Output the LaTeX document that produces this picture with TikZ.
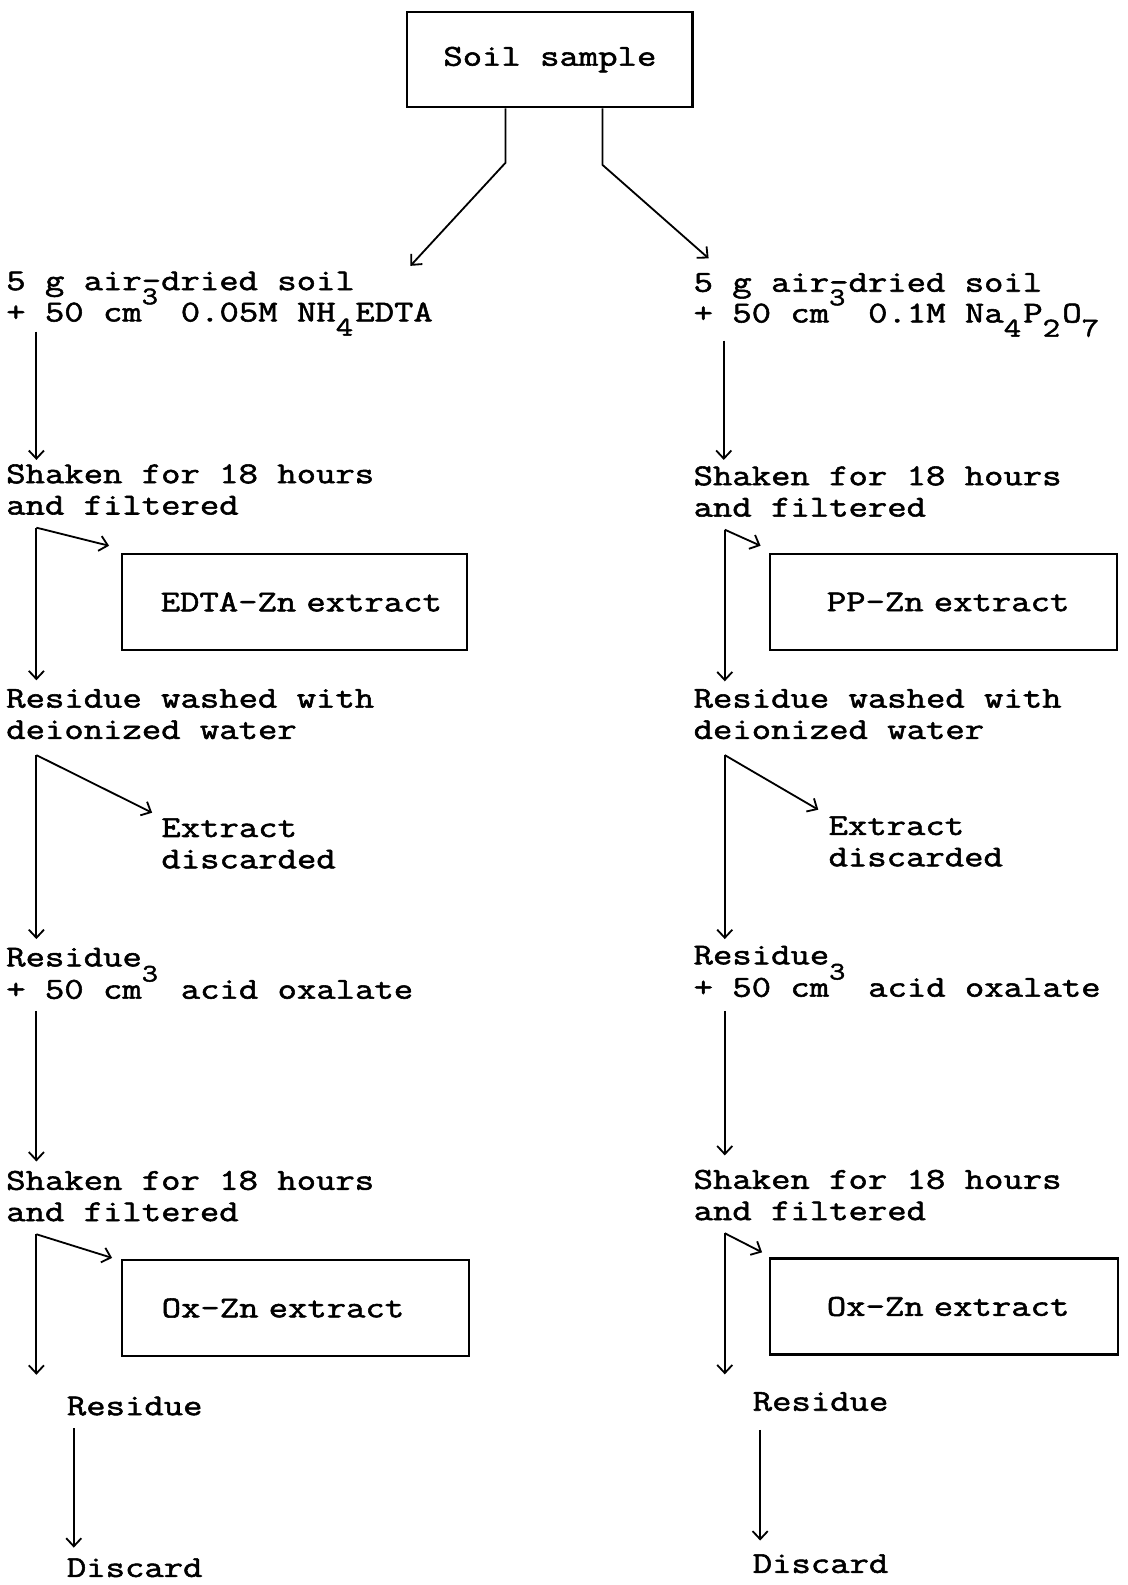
\documentclass[tikz,border=0pt]{standalone}
\usepackage{fontspec}
\usetikzlibrary{arrows.meta}
\newfontfamily\tw[FakeStretch=1.24,FakeBold=1.8]{Latin Modern Mono}
\newcommand\hi[1]{\makebox[19.4pt][l]{\raisebox{17pt}{\fontsize{25}{25}\selectfont #1}}}
\newcommand\lo[1]{\makebox[19.4pt][l]{\raisebox{-14pt}{\fontsize{27}{27}\selectfont #1}}}
\begin{document}
\begin{tikzpicture}[x=1pt,y=-1pt,
  txt/.style={anchor=base west, inner sep=0pt, font={\tw\fontsize{30}{30}\selectfont}},
  boxx/.style={draw, line width=2.2pt, inner sep=0pt, minimum height=95pt, font={\tw\fontsize{30}{30}\selectfont}},
  arr/.style={line width=1.8pt, -{Straight Barb[length=8pt,width=15pt,line width=1.8pt]}}]
\useasboundingbox (0,0) rectangle (1115,1568);
% top box
\node[boxx, minimum width=282pt, minimum height=94pt] (soil) at (544,59) {Soil sample};
% left column text
\node[txt] (l1a) at (6,287) {5 g air-dried soil};
\node[txt] (l1b) at (6,318) {+ 50 cm\hi{3} 0.05M NH\lo{4}EDTA};
\node[txt] (l2a) at (6,478) {Shaken for 18 hours};
\node[txt] (l2b) at (6,509) {and filtered};
\node[boxx, text width=341pt, align=left] (boxE) at (291.5,595.5) {\hspace*{38pt}EDTA-Zn extract};
\node[txt] (l3a) at (6,700) {Residue washed with};
\node[txt] (l3b) at (6,731) {deionized water};
\node[txt] (lext) at (159.5,828) {Extract};
\node[txt] (ldis) at (159.5,859) {discarded};
\node[txt] (l4a) at (6,956) {Residue};
\node[txt] (l4b) at (6,988) {+ 50 cm\hi{3} acid oxalate};
\node[txt] (l5a) at (6,1177) {Shaken for 18 hours};
\node[txt] (l5b) at (6,1208) {and filtered};
\node[boxx, text width=343pt, align=left] (boxOL) at (292.5,1294) {\hspace*{39pt}Ox-Zn extract};
\node[txt] (lres) at (66,1400) {Residue};
\node[txt] (ldisc) at (66,1560) {Discard};
% right column text
\node[txt] (r1a) at (686,288.6) {5 g air-dried soil};
\node[txt] (r1b) at (686,319) {+ 50 cm\hi{3} 0.1M Na\lo{4}P\lo{2}O\lo{7}};
\node[txt] (r2a) at (686,480) {Shaken for 18 hours};
\node[txt] (r2b) at (686,511) {and filtered};
\node[boxx, text width=343pt, align=left] (boxPP) at (933.5,595.5) {\hspace*{56pt}PP-Zn extract};
\node[txt] (r3a) at (686,700) {Residue washed with};
\node[txt] (r3b) at (686,731) {deionized water};
\node[txt] (rext) at (819.5,826) {Extract};
\node[txt] (rdis) at (819.5,857) {discarded};
\node[txt] (r4a) at (686,954) {Residue};
\node[txt] (r4b) at (686,986) {+ 50 cm\hi{3} acid oxalate};
\node[txt] (r5a) at (686,1176) {Shaken for 18 hours};
\node[txt] (r5b) at (686,1207) {and filtered};
\node[boxx, text width=344pt, align=left] (boxOR) at (934,1292.5) {\hspace*{56pt}Ox-Zn extract};
\node[txt] (rres) at (744.5,1395.6) {Residue};
\node[txt] (rdisc) at (744.5,1556) {Discard};
% top connectors
\draw[arr] ([xshift=-44pt]soil.south) -- ++(0,54) -- ([xshift=400pt,yshift=24pt]l1a.base west);
\draw[arr] ([xshift=52pt]soil.south) -- ++(0,56) -- ([xshift=15pt,yshift=33pt]r1a.base west);
% left connectors
\draw[arr] ([xshift=30pt,yshift=-10pt]l1b.base west) -- ([xshift=30pt,yshift=23pt]l2a.base west);
\draw[arr] ([xshift=30pt,yshift=-13pt]l2b.base west) -- ([xshift=30pt,yshift=27pt]l3a.base west);
\draw[arr] ([xshift=30pt,yshift=-13pt]l2b.base west) -- ([xshift=-12pt,yshift=7pt]boxE.north west);
\draw[arr] ([xshift=30pt,yshift=-16pt]l3b.base west) -- ([xshift=30pt,yshift=27pt]l4a.base west);
\draw[arr] ([xshift=30pt,yshift=-16pt]l3b.base west) -- ([xshift=-9pt,yshift=24pt]lext.base west);
\draw[arr] ([xshift=30pt,yshift=-12pt]l4b.base west) -- ([xshift=30pt,yshift=28pt]l5a.base west);
\draw[arr] ([xshift=30pt,yshift=-13pt]l5b.base west) -- ([xshift=-30pt,yshift=40pt]lres.base west);
\draw[arr] ([xshift=30pt,yshift=-13pt]l5b.base west) -- ([xshift=-9pt,yshift=1pt]boxOL.north west);
\draw[arr] ([xshift=7pt,yshift=-13pt]lres.base west) -- ([xshift=7pt,yshift=29pt]ldisc.base west);
% right connectors
\draw[arr] ([xshift=30pt,yshift=-18pt]r1b.base west) -- ([xshift=30pt,yshift=25pt]r2a.base west);
\draw[arr] ([xshift=31pt,yshift=-13pt]r2b.base west) -- ([xshift=31pt,yshift=26pt]r3a.base west);
\draw[arr] ([xshift=31pt,yshift=-13pt]r2b.base west) -- ([xshift=-8.5pt,yshift=7pt]boxPP.north west);
\draw[arr] ([xshift=31pt,yshift=-16pt]r3b.base west) -- ([xshift=31pt,yshift=25pt]r4a.base west);
\draw[arr] ([xshift=31pt,yshift=-16pt]r3b.base west) -- ([xshift=-10pt,yshift=25pt]rext.base west);
\draw[arr] ([xshift=31pt,yshift=-14pt]r4b.base west) -- ([xshift=31pt,yshift=33pt]r5a.base west);
\draw[arr] ([xshift=31pt,yshift=-13pt]r5b.base west) -- ([xshift=-27.5pt,yshift=36pt]rres.base west);
\draw[arr] ([xshift=31pt,yshift=-13pt]r5b.base west) -- ([xshift=-7pt,yshift=5pt]boxOR.north west);
\draw[arr] ([xshift=7.5pt,yshift=-19pt]rres.base west) -- ([xshift=7.5pt,yshift=32pt]rdisc.base west);
\end{tikzpicture}
\end{document}
